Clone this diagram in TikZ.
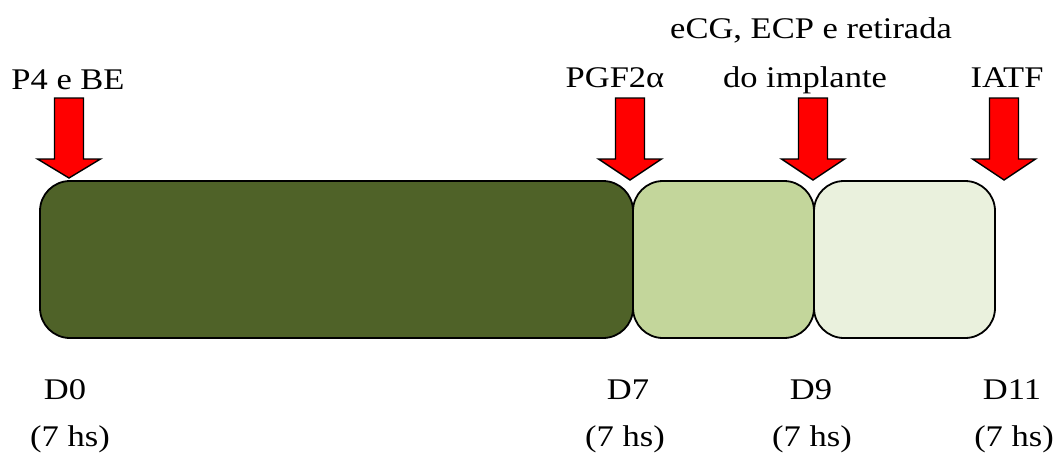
\documentclass[tikz,border=0pt]{standalone}
\usepackage{fontspec}
\setmainfont{Liberation Serif}
\definecolor{darkolive}{HTML}{4F6228}
\definecolor{midolive}{HTML}{C3D69B}
\definecolor{paleolive}{HTML}{EAF1DD}
\newcommand{\wide}[1]{\scalebox{1.15}[1]{#1}}
\tikzset{
  phase/.style={draw=black, line width=1.8pt, rounded corners=30pt, minimum height=157pt, inner sep=0pt},
  lbl/.style={anchor=base, inner sep=0pt, font=\fontsize{30}{36}\selectfont},
  redarrow/.style={fill=red, draw=black, line width=1.4pt, line join=miter},
}
\newcommand{\downarrowat}[2]{% #1 = x of tip, #2 = y of tip
  \draw[redarrow] (#1-14.5,98) -- (#1+14.5,98) -- (#1+14.5,159) -- (#1+31.5,159)
     -- (#1,#2) -- (#1-31.5,159) -- (#1-14.5,159) -- cycle;}
\begin{document}
\begin{tikzpicture}[x=1pt,y=-1pt]
\useasboundingbox (0,0) rectangle (1056,455);
% phases
\node[phase, fill=darkolive, minimum width=593pt] (p1) at (336.5,259.5) {};
\node[phase, fill=midolive, minimum width=181pt] (p2) at (723.5,259.5) {};
\node[phase, fill=paleolive, minimum width=181pt] (p3) at (904.5,259.5) {};
% arrows
\downarrowat{69}{178}
\downarrowat{630}{180}
\downarrowat{813}{180}
\downarrowat{1004}{180}
% top labels
\node[lbl] (t1) at (68,89) {\wide{P4 e BE}};
\node[lbl] (t2) at (615,87) {\wide{PGF2α}};
\node[lbl] (t3a) at (811,38) {\wide{eCG, ECP e retirada}};
\node[lbl] (t3b) at (805,87) {\wide{do implante}};
\node[lbl] (t4) at (1007,87) {\wide{IATF}};
% day labels
\node[lbl] (d0) at (65,399) {\wide{D0}};
\node[lbl] (d7) at (628,399) {\wide{D7}};
\node[lbl] (d9) at (811,399) {\wide{D9}};
\node[lbl] (d11) at (1012,399) {\wide{D11}};
% hours
\node[lbl] (h0) at (70,446) {\wide{(7 hs)}};
\node[lbl] (h7) at (625,446) {\wide{(7 hs)}};
\node[lbl] (h9) at (812,446) {\wide{(7 hs)}};
\node[lbl] (h11) at (1014,446) {\wide{(7 hs)}};
\end{tikzpicture}
\end{document}
